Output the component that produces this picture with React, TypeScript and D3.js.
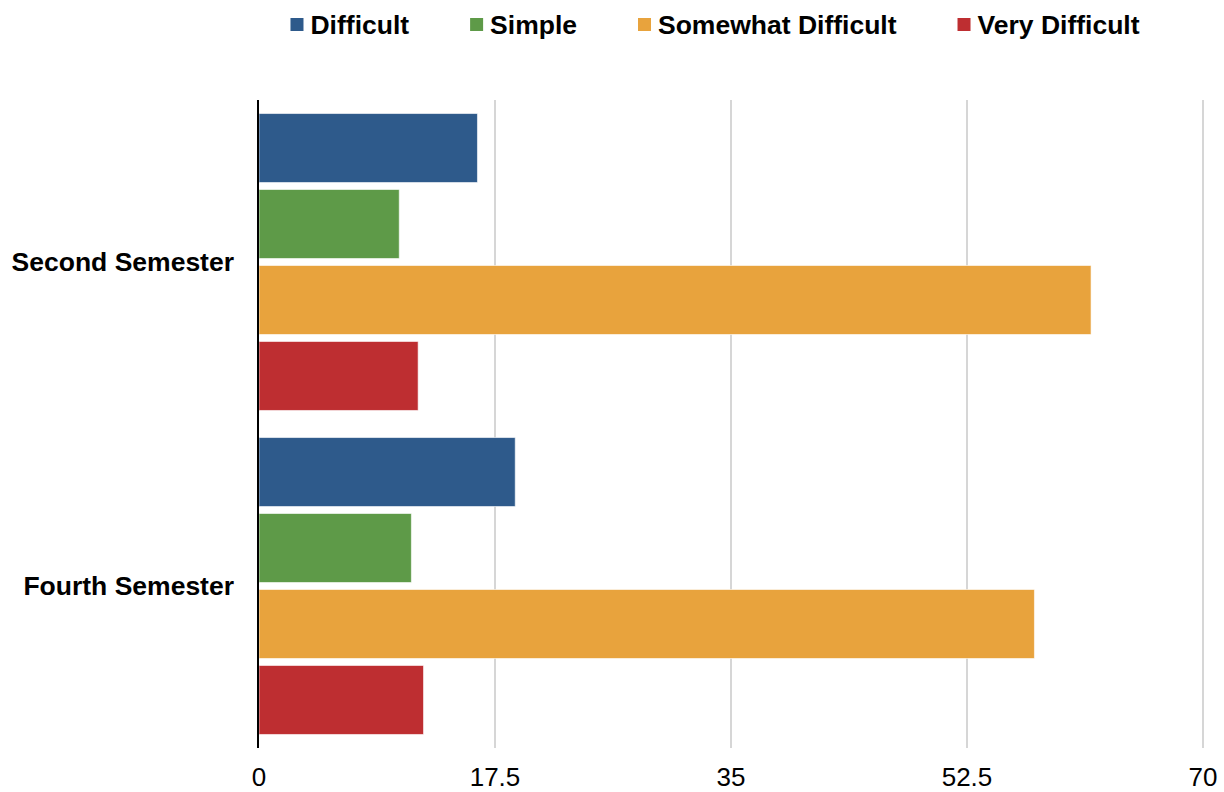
import { useEffect, useRef } from "react";
import * as d3 from "d3";

const W = 1224;
const H = 792;
const FONT = "'Liberation Sans', Arial, sans-serif";

const CATEGORIES = ["Second Semester", "Fourth Semester"];
const SERIES = ["Difficult", "Simple", "Somewhat Difficult", "Very Difficult"];
const COLORS = ["#2E5A8B", "#5E9A48", "#E8A33D", "#BE2E31"];
// values per series, in CATEGORIES order
const DIFFICULT = [16.2, 19.0];
const SIMPLE = [10.4, 11.3];
const SOMEWHAT = [61.7, 57.5];
const VERY = [11.8, 12.2];
const TICKS = [0, 17.5, 35, 52.5, 70];

const VALUES = [DIFFICULT, SIMPLE, SOMEWHAT, VERY];

export default function App() {
  const svgRef = useRef<SVGSVGElement>(null);

  useEffect(() => {
    document.body.style.margin = "0";
    if (!svgRef.current) return;
    const svg = d3.select(svgRef.current);
    svg.selectAll("*").remove();

    const left = 259, right = 1203, top = 100, bottom = 748;

    const x = d3.scaleLinear().domain([0, 70]).range([left, right]);
    const y = d3.scaleBand<string>().domain(CATEGORIES).range([top, bottom]);
    const inner = d3.scaleBand<string>()
      .domain(SERIES)
      .range([0, y.bandwidth()])
      .paddingInner(0.092)
      .paddingOuter(0.178);

    // gridlines
    svg.append("g")
      .selectAll("line")
      .data(TICKS.slice(1))
      .join("line")
      .attr("x1", (d) => x(d)).attr("x2", (d) => x(d))
      .attr("y1", top).attr("y2", bottom)
      .attr("stroke", "#c8c8c8").attr("stroke-width", 1.5);

    // bars
    CATEGORIES.forEach((cat, ci) => {
      const g = svg.append("g").attr("transform", `translate(0,${y(cat)})`);
      SERIES.forEach((s, si) => {
        g.append("rect")
          .attr("x", x(0))
          .attr("y", inner(s)!)
          .attr("width", x(VALUES[si][ci]) - x(0))
          .attr("height", inner.bandwidth())
          .attr("fill", COLORS[si])
          .attr("stroke", "#ffffff")
          .attr("stroke-opacity", 0.6)
          .attr("stroke-width", 1);
      });
    });

    // axis line at 0
    svg.append("line")
      .attr("x1", x(0) - 1).attr("x2", x(0) - 1)
      .attr("y1", top).attr("y2", bottom)
      .attr("stroke", "#000").attr("stroke-width", 2);

    // x tick labels
    svg.append("g")
      .selectAll("text")
      .data(TICKS)
      .join("text")
      .attr("x", (d) => x(d))
      .attr("y", 786)
      .attr("text-anchor", "middle")
      .attr("font-family", FONT)
      .attr("font-size", 26)
      .attr("fill", "#000")
      .text((d) => String(d));

    // category labels
    svg.append("g")
      .selectAll("text")
      .data(CATEGORIES)
      .join("text")
      .attr("x", 234)
      .attr("y", (d) => y(d)! + y.bandwidth() / 2)
      .attr("dy", "0.35em")
      .attr("text-anchor", "end")
      .attr("font-family", FONT)
      .attr("font-size", 26.5)
      .attr("font-weight", "bold")
      .attr("fill", "#000")
      .text((d) => d);

    // legend
    const lg = svg.append("g");
    const items = SERIES.map((s, i) => {
      const it = lg.append("g");
      it.append("rect")
        .attr("x", 0).attr("y", -7)
        .attr("width", 13).attr("height", 13)
        .attr("fill", COLORS[i]);
      const t = it.append("text")
        .attr("x", 20)
        .attr("dy", "0.35em")
        .attr("font-family", FONT)
        .attr("font-size", 26.5)
        .attr("font-weight", "bold")
        .attr("fill", "#000")
        .text(s);
      const w = 20 + (t.node() as SVGTextElement).getComputedTextLength();
      return { it, w };
    });
    const gap = 61;
    const total = d3.sum(items, (d) => d.w) + gap * (items.length - 1);
    let cx = 715 - total / 2;
    items.forEach(({ it, w }) => {
      it.attr("transform", `translate(${cx},25)`);
      cx += w + gap;
    });
  }, []);

  return <svg ref={svgRef} width={W} height={H} style={{ display: "block" }} />;
}
